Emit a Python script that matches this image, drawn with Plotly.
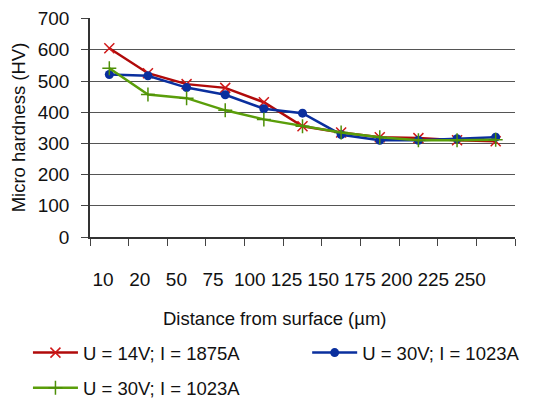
import plotly.graph_objects as go

distance = ["10", "20", "50", "75", "100", "125", "150", "175", "200", "225", "250"]
hv_14v_1875a = [605, 525, 490, 478, 432, 355, 335, 320, 317, 310, 307]
hv_30v_1023a_blue = [521, 517, 479, 456, 411, 397, 328, 310, 310, 315, 320]
hv_30v_1023a_green = [541, 457, 445, 406, 377, 355, 335, 320, 310, 310, 312]
names = ["U = 14V; I = 1875A", "U = 30V; I = 1023A", "U = 30V; I = 1023A"]
y_ticks = [0, 100, 200, 300, 400, 500, 600, 700]
x_title = "Distance from surface (µm)"
y_title = "Micro hardness (HV)"

FONT = "Liberation Sans, Arial, sans-serif"
FS = 18.5
fig = go.Figure()
fig.add_trace(go.Scatter(x=distance, y=hv_14v_1875a, name=names[0], mode="lines+markers",
                         legend="legend",
                         line=dict(color="#B00A0A", width=2.5),
                         marker=dict(symbol="x-thin", size=10, line=dict(color="#D01818", width=1.5))))
fig.add_trace(go.Scatter(x=distance, y=hv_30v_1023a_blue, name=names[1], mode="lines+markers",
                         legend="legend2",
                         line=dict(color="#0A2F9E", width=2.5),
                         marker=dict(symbol="circle", size=9, color="#0A2F9E")))
fig.add_trace(go.Scatter(x=distance, y=hv_30v_1023a_green, name=names[2], mode="lines+markers",
                         legend="legend3",
                         line=dict(color="#5A9E0A", width=2.5),
                         marker=dict(symbol="cross-thin", size=10, line=dict(color="#4E9008", width=1.5))))

# invisible trace on secondary axis to carry category labels
fig.add_trace(go.Scatter(x=list(range(len(distance))), y=[None]*len(distance), xaxis="x2",
                         showlegend=False, hoverinfo="skip"))

leg = dict(orientation="h", xanchor="left", yanchor="middle", font=dict(size=FS),
           bgcolor="rgba(0,0,0,0)", itemwidth=45)

fig.update_layout(
    width=547, height=399,
    margin=dict(l=82, r=40, t=10, b=170, autoexpand=False),
    paper_bgcolor="white", plot_bgcolor="white",
    font=dict(family=FONT, size=FS, color="#111111"),
    xaxis=dict(type="category", range=[-0.5, 10.5], showticklabels=False, showgrid=False,
               ticks="outside", tickson="boundaries", ticklen=7, tickcolor="#444444",
               showline=True, linecolor="#333333", linewidth=1.5, zeroline=False, automargin=False),
    xaxis2=dict(overlaying="x", anchor="y", side="bottom", range=[-0.354, 11.226],
                tickvals=list(range(len(distance))), ticktext=distance,
                showgrid=False, zeroline=False, showline=False, ticks="", automargin=False,
                ticklabelstandoff=29, tickfont=dict(size=19), ticklabeloverflow="allow"),
    yaxis=dict(range=[0, 702], tickvals=y_ticks, showgrid=True, gridcolor="#555555", gridwidth=1,
               ticks="outside", ticklen=7, tickcolor="#444444", showline=True, automargin=False,
               linecolor="#333333", linewidth=1.5, zeroline=False, tickfont=dict(size=19),
               ticklabelstandoff=8, ticklabeloverflow="allow",
               title=dict(text=y_title, font=dict(size=FS), standoff=10)),
    legend=dict(leg, x=-0.146, y=-0.53),
    legend2=dict(leg, x=0.511, y=-0.53),
    legend3=dict(leg, x=-0.146, y=-0.69),
    annotations=[dict(text=x_title, xref="paper", yref="paper", x=0.433, y=-0.37,
                      xanchor="center", yanchor="middle", showarrow=False,
                      font=dict(size=FS))],
    showlegend=True,
)

fig.write_html("out.html")
